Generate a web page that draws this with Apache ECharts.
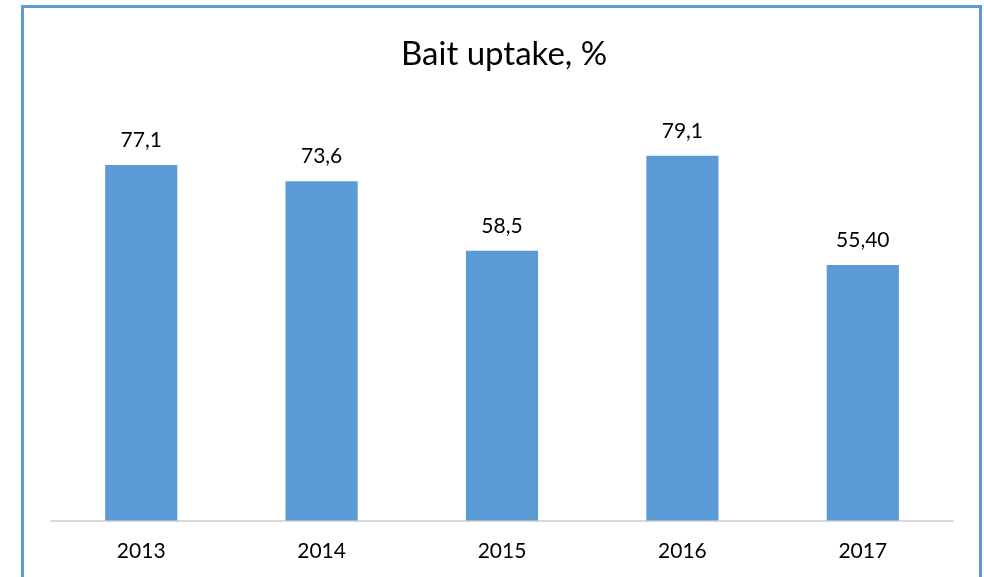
<!DOCTYPE html>
<html>
<head>
<meta charset="utf-8">
<script src="https://cdn.jsdelivr.net/npm/echarts@6/dist/echarts.min.js"></script>
<style>html,body{margin:0;padding:0;background:#fff}#c{width:984px;height:577px}</style>
</head>
<body>
<div id="c"></div>
<script>
var categories = ['2013', '2014', '2015', '2016', '2017'];
var values = [77.1, 73.6, 58.5, 79.1, 55.4];
var valueLabels = ['77,1', '73,6', '58,5', '79,1', '55,40'];
var titleText = 'Bait uptake, %';

var chart = echarts.init(document.getElementById('c'));
chart.setOption({
  animation: false,
  backgroundColor: '#fff',
  title: {
    text: titleText,
    left: 396,
    top: 33,
    textStyle: { fontFamily: 'Lato', fontWeight: 'normal', fontSize: 33, color: '#000' }
  },
  graphic: [{
    type: 'rect',
    shape: { x: 22.5, y: 6.5, width: 958, height: 620 },
    style: { fill: 'none', stroke: '#5B9BD5', lineWidth: 3 },
    silent: true
  }],
  grid: { left: 51, right: 31, top: 105.6, bottom: 56.5 },
  xAxis: {
    type: 'category',
    data: categories,
    axisLine: { lineStyle: { color: '#D9D9D9', width: 2 } },
    axisTick: { show: false },
    axisLabel: { color: '#000', fontFamily: 'Lato', fontSize: 21, margin: 20 }
  },
  yAxis: {
    type: 'value',
    min: 0, max: 90,
    show: false,
    splitLine: { show: false }
  },
  series: [{
    type: 'bar',
    data: values,
    barWidth: '40%',
    itemStyle: { color: '#5B9BD5' },
    label: {
      show: true,
      position: 'top',
      distance: 14,
      color: '#000',
      fontFamily: 'Lato',
      fontSize: 21,
      formatter: function (p) { return valueLabels[p.dataIndex]; }
    }
  }]
});
</script>
</body>
</html>
